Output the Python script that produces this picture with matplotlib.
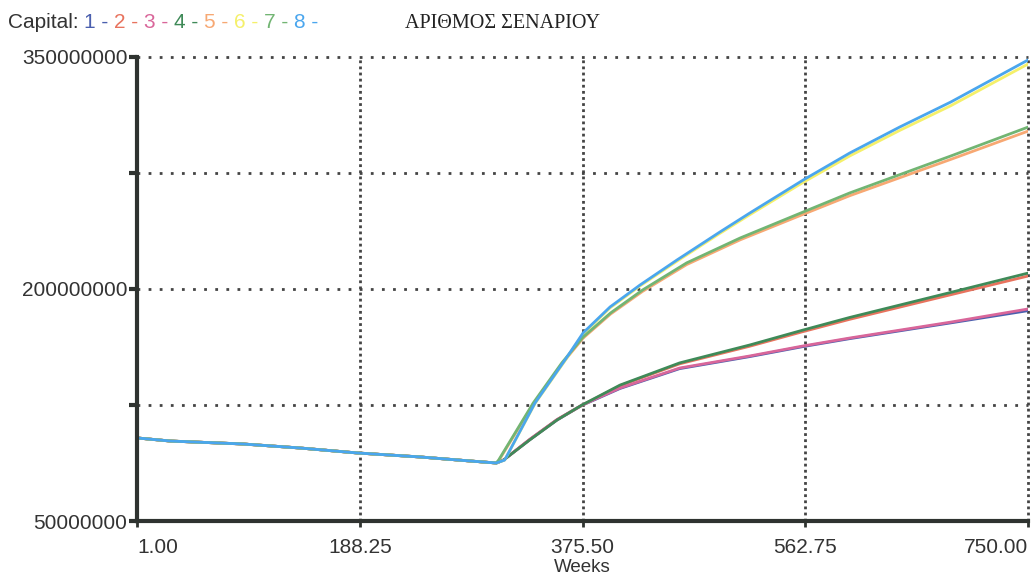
import matplotlib.pyplot as plt

# --- Data (values in millions) ---
common_weeks = [1, 29, 90, 138, 186, 239, 281, 303]
common_vals = [103.7, 101.7, 99.8, 97.2, 94.0, 91.4, 88.8, 87.5]

weeks_a = [310, 335.5, 360.7, 375.9, 398.6, 423.8, 454.9, 491, 516, 561, 600, 642, 685, 750]
cap8 = [89.4, 126.3, 154.1, 171.6, 188.4, 202.6, 218.8, 236.9, 249.1, 270.5, 287.9, 304.7, 320.9, 348.1]
cap6 = [89.4, 126.0, 153.6, 171.0, 187.8, 202.0, 218.0, 236.0, 248.0, 269.0, 286.0, 302.5, 318.5, 345.5]

weeks_b = [305, 334, 358, 376, 399, 426, 463, 508, 561, 600, 685, 750]
cap7 = [89.5, 126.3, 152.2, 169.0, 184.5, 199.4, 216.9, 233.0, 249.8, 262.1, 286.0, 304.7]
cap5 = [89.0, 125.5, 151.5, 168.3, 183.8, 198.5, 215.8, 231.8, 248.3, 260.3, 283.8, 302.1]

weeks_c = [309, 331, 354, 375, 407, 457, 516, 561, 600, 685, 750]
cap4 = [89.4, 102.4, 115.3, 125.0, 137.9, 152.2, 163.8, 173.5, 181.6, 197.8, 210.3]
cap2 = [89.4, 102.6, 115.5, 124.8, 137.5, 151.6, 163.0, 172.5, 180.4, 196.3, 208.4]
cap3 = [89.4, 102.8, 115.6, 125.0, 136.0, 148.9, 156.7, 163.2, 168.3, 178.6, 187.1]
cap1 = [89.4, 102.5, 115.3, 124.8, 135.7, 148.5, 156.3, 162.8, 167.9, 178.1, 186.0]

series = [
    ("1", weeks_c, cap1, "#4a5fae"),
    ("2", weeks_c, cap2, "#e8735e"),
    ("3", weeks_c, cap3, "#d9669a"),
    ("4", weeks_c, cap4, "#3f8a58"),
    ("5", weeks_b, cap5, "#f7a873"),
    ("6", weeks_a, cap6, "#f5f06a"),
    ("7", weeks_b, cap7, "#72b573"),
    ("8", weeks_a, cap8, "#4aa6ee"),
]

x_ticks = [1.00, 188.25, 375.50, 562.75, 750.00]
y_ticks = [50e6, 125e6, 200e6, 275e6, 350e6]
y_labels = ["50000000", "", "200000000", "", "350000000"]

plt.rcParams['font.family'] = ['Liberation Sans', 'DejaVu Sans']

fig = plt.figure(figsize=(10.35, 5.82), dpi=100)
ax = fig.add_axes([0.1324, 0.1048, 0.861, 0.7973])

for name, wk, vals, col in series:
    xs = common_weeks + wk
    ys = [v * 1e6 for v in common_vals + vals]
    ax.plot(xs, ys, color=col, linewidth=2, solid_joinstyle='round')

ax.set_xlim(1, 750)
ax.set_ylim(50e6, 350e6)

# dotted grid
grid_col = "#444444"
for yv in y_ticks[1:]:
    ax.axhline(yv, color=grid_col, linestyle=(0, (1, 3)), linewidth=2, clip_on=False, zorder=0)
for xv in x_ticks[1:]:
    ax.axvline(xv, color=grid_col, linestyle=(0, (1, 1.2)), linewidth=2, clip_on=False, zorder=0)

for s in ["top", "right"]:
    ax.spines[s].set_visible(False)
for s in ["left", "bottom"]:
    ax.spines[s].set_linewidth(3)
    ax.spines[s].set_color("#2f3330")

ax.set_xticks(x_ticks)
xl = ax.set_xticklabels(["%.2f" % v for v in x_ticks], fontsize=15, color="#333333")
xl[0].set_ha("left")
xl[-1].set_ha("right")
ax.set_yticks(y_ticks)
ax.set_yticklabels(y_labels, fontsize=15, color="#333333")
ax.tick_params(axis='y', direction='out', length=6, width=3, color="#2f3330", pad=1)
ax.tick_params(axis='x', direction='out', length=4, width=2, color="#2f3330", pad=8)
ax.set_xlabel("Weeks", fontsize=13.5, color="#333333", labelpad=2)

# legend header
fig.canvas.draw()
renderer = fig.canvas.get_renderer()
x0 = 8 / 1035
y0 = 1 - 23 / 582
t = fig.text(x0, y0, "Capital: ", fontsize=15, color="#333333", va="center")
for name, wk, vals, col in series:
    bb = t.get_window_extent(renderer)
    t = fig.text(bb.x1 / fig.bbox.width, y0, name + " - ", fontsize=15, color=col, va="center")

fig.text(405 / 1035, y0, "ΑΡΙΘΜΟΣ ΣΕΝΑΡΙΟΥ", fontsize=14.5, color="#222222",
         va="center", family=['Liberation Serif', 'DejaVu Serif'])

fig.savefig("out.png", dpi=100)
